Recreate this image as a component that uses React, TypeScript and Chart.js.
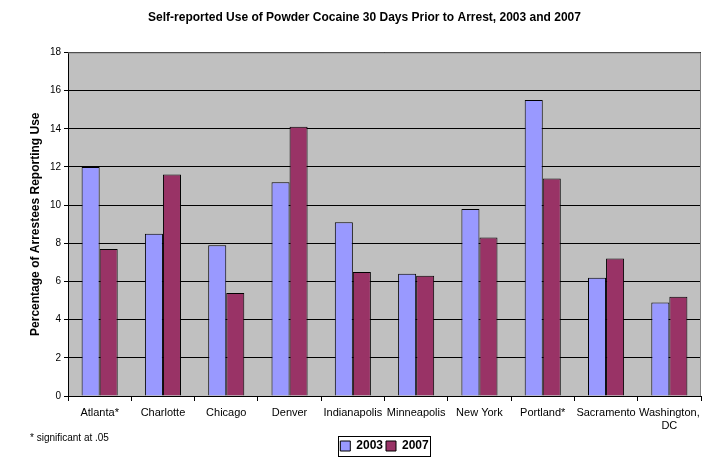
import React, { useEffect, useRef } from "react";
import { Chart, registerables } from "chart.js";

Chart.register(...registerables);

const categories: (string | string[])[] = [
  "Atlanta*", "Charlotte", "Chicago", "Denver", "Indianapolis",
  "Minneapolis", "New York", "Portland*", "Sacramento", ["Washington,", "DC"],
];
const values2003 = [12.0, 8.5, 7.9, 11.2, 9.1, 6.4, 9.8, 15.5, 6.2, 4.9];
const values2007 = [7.7, 11.6, 5.4, 14.1, 6.5, 6.3, 8.3, 11.4, 7.2, 5.2];
const seriesLabels = ["2003", "2007"];
const titleText = "Self-reported Use of Powder Cocaine 30 Days Prior to Arrest, 2003 and 2007";
const yTitle = "Percentage of Arrestees Reporting Use";
const footnote = "* significant at .05";

const FONT = "'Liberation Sans', Arial, sans-serif";

export default function App() {
  const ref = useRef<HTMLCanvasElement>(null);
  useEffect(() => {
    if (!ref.current) return;
    const bgPlugin = {
      id: "bg",
      beforeDraw(chart: any) {
        const { ctx, chartArea: a } = chart;
        ctx.save();
        ctx.fillStyle = "#ffffff";
        ctx.fillRect(0, 0, chart.width, chart.height);
        ctx.fillStyle = "#C0C0C0";
        ctx.fillRect(a.left, a.top, a.right - a.left, a.bottom - a.top);
        ctx.restore();
      },
      afterDraw(chart: any) {
        const { ctx, chartArea: a } = chart;
        ctx.save();
        ctx.strokeStyle = "#808080";
        ctx.lineWidth = 1;
        ctx.beginPath();
        ctx.moveTo(a.left, a.top + 0.5);
        ctx.lineTo(a.right - 0.5, a.top + 0.5);
        ctx.lineTo(a.right - 0.5, a.bottom);
        ctx.stroke();
        // legend frame around the items
        const lg = chart.legend;
        if (lg && lg.legendHitBoxes && lg.legendHitBoxes.length) {
          const hb = lg.legendHitBoxes;
          let x0 = Infinity, y0 = Infinity, x1 = -Infinity;
          hb.forEach((b: any) => {
            x0 = Math.min(x0, b.left);
            y0 = Math.min(y0, b.top);
            x1 = Math.max(x1, b.left + b.width);
          });
          ctx.strokeStyle = "#000000";
          ctx.strokeRect(Math.round(x0 - 2) + 0.5, Math.round(y0 - 4) + 0.5, Math.round(x1 - x0 + 4), 20);
        }
        ctx.fillStyle = "#000";
        ctx.font = `10px ${FONT}`;
        ctx.textBaseline = "middle";
        ctx.fillText(footnote, 30, 438);
        ctx.restore();
      },
    };
    const chart = new Chart(ref.current, {
      type: "bar",
      data: {
        labels: categories,
        datasets: [
          {
            label: seriesLabels[0],
            data: values2003,
            backgroundColor: "#9999FF",
            borderColor: "#000000",
            borderWidth: 1,
          },
          {
            label: seriesLabels[1],
            data: values2007,
            backgroundColor: "#993366",
            borderColor: "#000000",
            borderWidth: 1,
          },
        ],
      },
      options: {
        animation: false,
        responsive: false,
        maintainAspectRatio: false,
        datasets: { bar: { barPercentage: 1, categoryPercentage: 0.57 } },
        layout: { padding: { left: 28, right: 22, top: 4, bottom: 0 } },
        plugins: {
          title: {
            display: true,
            text: titleText,
            color: "#000",
            font: { family: FONT, size: 12, weight: "bold" },
            padding: { top: 6, bottom: 28 },
          },
          legend: {
            position: "bottom",
            fullSize: false,
            labels: {
              color: "#000",
              font: { family: FONT, size: 12, weight: "bold" },
              boxWidth: 10,
              boxHeight: 10,
              padding: 3,
            },
          },
          tooltip: { enabled: false },
        },
        scales: {
          x: {
            grid: {
              display: true,
              drawOnChartArea: false,
              drawTicks: true,
              tickLength: 5,
              color: "#000",
              offset: true,
            },
            border: { color: "#000" },
            ticks: {
              color: "#000",
              font: { family: FONT, size: 11 },
              maxRotation: 0,
              autoSkip: false,
              padding: 5,
            },
            afterFit(s: any) {
              s.height = 41;
            },
          },
          y: {
            min: 0,
            max: 18,
            ticks: {
              stepSize: 2,
              color: "#000",
              font: { family: FONT, size: 10 },
              padding: 3,
            },
            grid: { color: "#000", tickLength: 4 },
            border: { color: "#000" },
            title: {
              display: true,
              text: yTitle,
              color: "#000",
              font: { family: FONT, size: 12, weight: "bold" },
              padding: { top: 0, bottom: 4 },
            },
            afterFit(s: any) {
              s.width = 40;
            },
          },
        },
      },
      plugins: [bgPlugin],
    } as any);
    return () => chart.destroy();
  }, []);
  return (
    <div style={{ position: "fixed", left: 0, top: 0, width: 723, height: 462, background: "#fff" }}>
      <canvas ref={ref} width={723} height={462} style={{ display: "block" }} />
    </div>
  );
}
